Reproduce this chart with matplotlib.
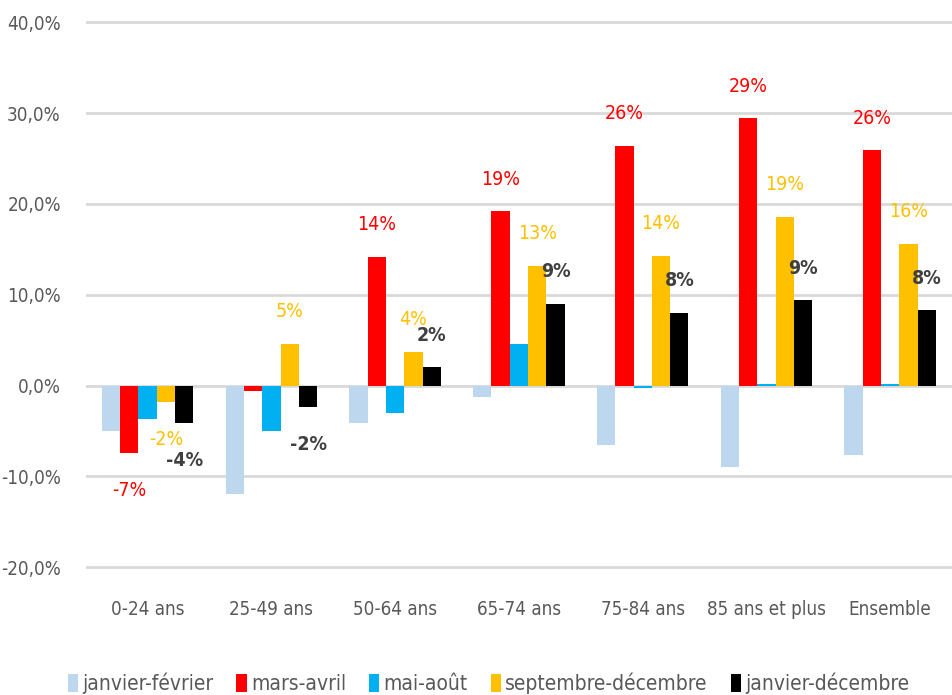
import numpy as np
import matplotlib
matplotlib.use("Agg")
import matplotlib.pyplot as plt
from matplotlib.ticker import FuncFormatter

# condensed face, closest to the narrow look of the original
plt.rcParams['font.family'] = ['DejaVu Sans']
plt.rcParams['font.stretch'] = 'condensed'

# categories and series (in %)
groupes = ['0-24 ans', '25-49 ans', '50-64 ans', '65-74 ans', '75-84 ans', '85 ans et plus', 'Ensemble']
periodes = ['janvier-février', 'mars-avril', 'mai-août', 'septembre-décembre', 'janvier-décembre']
janv_fev = [-5.0, -12.0, -4.1, -1.3, -6.6, -9.0, -7.6]
mars_avril = [-7.4, -0.6, 14.2, 19.2, 26.4, 29.4, 25.9]
mai_aout = [-3.7, -5.0, -3.0, 4.6, -0.3, 0.2, 0.2]
sept_dec = [-1.8, 4.6, 3.7, 13.2, 14.3, 18.6, 15.6]
janv_dec = [-4.1, -2.4, 2.0, 9.0, 8.0, 9.4, 8.3]

series = [janv_fev, mars_avril, mai_aout, sept_dec, janv_dec]
couleurs = ['#BDD7EE', '#FF0000', '#00B0F0', '#FFC000', '#000000']
# which series get value labels, and how they look
etiquettes = {1: ('#FF0000', 'normal'), 3: ('#FFC000', 'normal'), 4: ('#404040', 'bold')}

fig = plt.figure(figsize=(9.53, 6.95), dpi=100)
ax = fig.add_axes([0.090, 0.182, 0.909, 0.788])

x = np.arange(len(groupes))
w = 0.148
for i, vals in enumerate(series):
    pos = x + (i - 2) * w
    ax.bar(pos, vals, w, color=couleurs[i], label=periodes[i], zorder=3)
    if i in etiquettes:
        c, fw = etiquettes[i]
        for px, v in zip(pos, vals):
            if abs(v) < 1:
                continue  # tiny values have no label in the original
            off = 23 if v > 0 else -27
            ax.annotate(f"{v:.0f}%", (px, v), xytext=(0, off), textcoords='offset points',
                        ha='center', va='center', color=c, fontsize=14, fontweight=fw)

ax.set_xlim(-0.5, len(groupes) - 0.5)
ax.set_ylim(-20.15, 40.15)
ax.set_yticks(np.arange(-20, 41, 10))
ax.yaxis.set_major_formatter(FuncFormatter(lambda v, p: f"{v:.1f}%".replace('.', ',')))
ax.set_xticks(x)
ax.set_xticklabels(groupes)
ax.grid(axis='y', color='#D9D9D9', linewidth=2, zorder=0)
for s in ax.spines.values():
    s.set_visible(False)
ax.tick_params(axis='both', length=0, colors='#595959', labelsize=13.5)
ax.tick_params(axis='x', pad=23)
ax.tick_params(axis='y', pad=18)

ax.legend(loc='center', bbox_to_anchor=(0.465, -0.21), ncol=5, frameon=False,
          fontsize=15, labelcolor='#595959', handlelength=0.5, handleheight=1.0,
          handletextpad=0.2, columnspacing=1.1)

fig.savefig('out.png', dpi=100)
